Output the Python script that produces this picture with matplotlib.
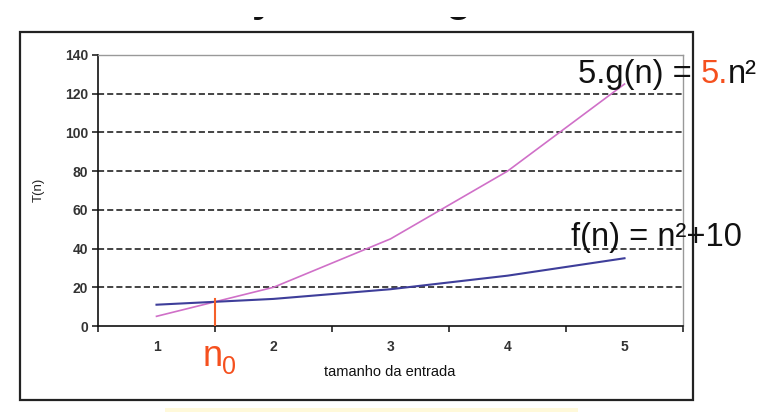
import numpy as np
import matplotlib
matplotlib.use("Agg")
import matplotlib.pyplot as plt
from matplotlib.patches import Rectangle
from matplotlib.font_manager import findfont, FontProperties, get_font

# ---- data ----
categories = [1, 2, 3, 4, 5]
tick_labels = ["1", "2", "3", "4", "5"]
g5_values = [5, 20, 45, 80, 125]      # 5.g(n) = 5.n^2
f_values = [11, 14, 19, 26, 35]       # f(n) = n^2 + 10
n0_x = 1.5
n0_top = 14
y_ticks = [0, 20, 40, 60, 80, 100, 120, 140]

FONT = "Liberation Sans"
plt.rcParams["font.family"] = [FONT, "DejaVu Sans"]

W, H = 781, 412
fig = plt.figure(figsize=(W / 100, H / 100), dpi=100)
fig.patch.set_facecolor("white")

def fx(px):
    return px / W

def fy(py):
    return 1 - py / H

ax = fig.add_axes([fx(98), fy(326), (683 - 98) / W, (326 - 55) / H])

ax.plot(categories, g5_values, color="#D070C8", lw=1.2, zorder=3)
ax.plot(categories, f_values, color="#3E3E9A", lw=1.5, zorder=3)
ax.plot([n0_x, n0_x], [0, n0_top], color="#F5602A", lw=1.5, zorder=4)

ax.set_xlim(0.5, 5.5)
ax.set_ylim(0, 140)

ax.set_xticks(np.arange(0.5, 5.6, 1.0))
ax.set_xticklabels([])
ax.set_xticks(categories, minor=True)
ax.set_xticklabels(tick_labels, minor=True)
ax.tick_params(axis="x", which="major", direction="out", length=4, width=1.1, color="#111")
ax.tick_params(axis="x", which="minor", length=0, pad=10, labelsize=10, labelcolor="#333")
ax.set_yticks(y_ticks)
ax.tick_params(axis="y", direction="out", length=4, width=1.1, color="#111", pad=3,
               labelsize=10, labelcolor="#333")
for lab in ax.get_xticklabels(minor=True) + ax.get_yticklabels():
    lab.set_fontweight("bold")

ax.set_axisbelow(True)
ax.grid(axis="y", color="#111", linestyle=(0, (4, 2)), linewidth=1.1)
gl = ax.get_ygridlines()
gl[0].set_visible(False)
gl[-1].set_visible(False)

for s in ["left", "bottom"]:
    ax.spines[s].set_color("#111")
    ax.spines[s].set_linewidth(1.2)
for s in ["top", "right"]:
    ax.spines[s].set_color("#999")
    ax.spines[s].set_linewidth(1.0)

# axis labels
fig.text(fx(39), fy(190), "T(n)", rotation=90, ha="center", va="center",
         fontsize=9.5, color="#222")
fig.text(fx(390), fy(372), "tamanho da entrada", ha="center", va="center",
         fontsize=10.5, color="#111")

# multi-coloured annotations
def advance(s, size):
    f = get_font(findfont(FontProperties(family=FONT)))
    f.set_size(size, 100)
    return sum(f.load_char(ord(c)).linearHoriAdvance / 65536 for c in s)

def colored(x_px, base_px, parts, size):
    x = x_px
    for s, c in parts:
        fig.text(fx(x), fy(base_px), s, color=c, fontsize=size, ha="left",
                 va="baseline", zorder=6)
        x += advance(s, size)

BLACK = "#111"
RED = "#F5501E"
colored(578, 83, [("5.g(n) = ", BLACK), ("5.", RED), ("n\u00b2", BLACK)], 23.5)
colored(571, 246, [("f(n) = n\u00b2+10", BLACK)], 23.5)

# n0 label
fig.text(fx(203), fy(366), "n", color=RED, fontsize=26, ha="left", va="baseline")
fig.text(fx(222), fy(374), "0", color=RED, fontsize=18, ha="left", va="baseline")

# cut-off title fragments at the top (only descenders visible, as in the reference)
fig.text(fx(252), fy(11.5), "y", fontsize=30, fontweight="bold", color="#111",
         ha="left", va="baseline", zorder=2)
fig.text(fx(445), fy(11.5), "g", fontsize=30, fontweight="bold", color="#111",
         ha="left", va="baseline", zorder=2)
fig.patches.append(Rectangle((0, fy(16.5)), 1, 16.5 / H, transform=fig.transFigure,
                             facecolor="white", edgecolor="none", zorder=5))

# outer frame
fig.patches.append(Rectangle((fx(20), fy(400)), (693 - 20) / W, (400 - 32) / H,
                             transform=fig.transFigure, fill=False,
                             edgecolor="#222", linewidth=1.6, zorder=5))
# pale yellow strip at bottom
fig.patches.append(Rectangle((fx(165), 0), (578 - 165) / W, 4 / H,
                             transform=fig.transFigure, facecolor="#FFF9DA",
                             edgecolor="none", zorder=5))

fig.savefig("out.png", dpi=100)
